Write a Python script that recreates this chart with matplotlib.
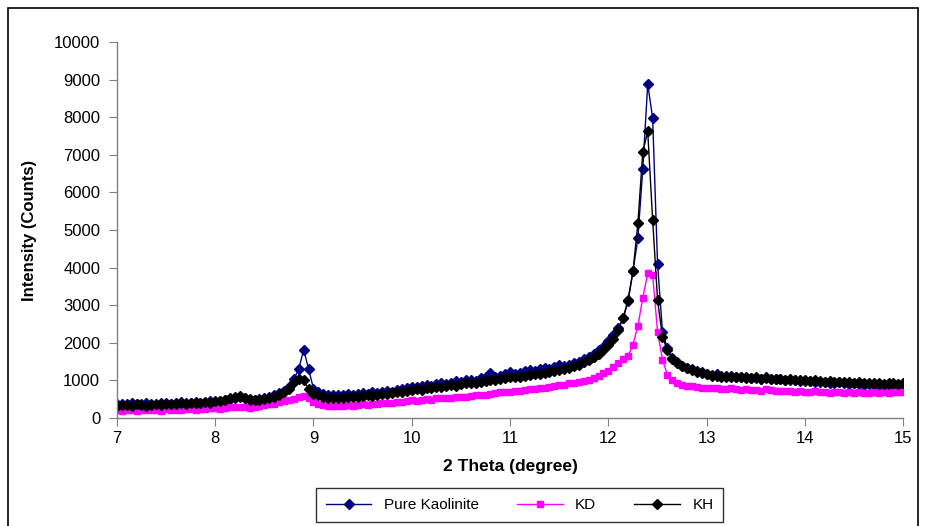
import numpy as np
import matplotlib
matplotlib.use('Agg')
import matplotlib.pyplot as plt
from matplotlib.patches import Rectangle

plt.rcParams['font.family'] = ['Liberation Sans', 'DejaVu Sans']

# 2-theta from 7 to 15 deg, step 0.05
two_theta = np.round(np.arange(161) * 0.05 + 7.0, 2)

# Pure Kaolinite
pure_kaolinite = [
    360, 380, 370, 390, 360, 380, 400, 370, 350, 390, 410, 380, 400, 420, 390, 400, 430, 410, 400, 440,
    420, 450, 470, 500, 540, 560, 530, 500, 480, 510, 530, 570, 620, 660, 720, 820, 1030, 1300, 1820, 1300,
    780, 680, 640, 620, 600, 620, 600, 640, 620, 630, 660, 640, 680, 660, 700, 720, 700, 740, 760, 800,
    830, 820, 860, 880, 850, 900, 920, 900, 940, 980, 960, 1000, 1020, 990, 1060, 1080, 1190, 1100, 1120, 1180,
    1220, 1160, 1200, 1240, 1280, 1250, 1300, 1320, 1290, 1360, 1400, 1380, 1420, 1460, 1500, 1560, 1620, 1700, 1800, 1900,
    2050, 2200, 2400, 2650, 3100, 3900, 4790, 6630, 8880, 7980, 4100, 2300, 1850, 1600, 1480, 1380, 1330, 1300, 1250, 1220,
    1180, 1150, 1160, 1120, 1100, 1130, 1090, 1080, 1100, 1060, 1070, 1050, 1080, 1040, 1030, 1050, 1010, 1000, 1020, 990,
    980, 990, 960, 950, 970, 940, 930, 950, 920, 910, 930, 900, 880, 910, 890, 870, 880, 860, 870, 850,
    810,
]

# KD
kd = [
    200, 190, 210, 200, 180, 200, 210, 220, 200, 190, 230, 210, 220, 200, 240, 230, 220, 250, 240, 260,
    260, 250, 270, 290, 280, 300, 280, 270, 300, 320, 350, 360, 380, 420, 440, 470, 500, 560, 580, 520,
    420, 370, 340, 320, 330, 310, 320, 340, 330, 350, 360, 350, 370, 380, 390, 400, 410, 420, 430, 450,
    470, 460, 480, 500, 490, 520, 530, 520, 540, 560, 570, 560, 580, 600, 610, 620, 640, 660, 680, 690,
    700, 720, 730, 740, 760, 780, 790, 800, 820, 840, 870, 880, 920, 930, 950, 980, 1020, 1070, 1130, 1200,
    1250, 1360, 1450, 1580, 1650, 1950, 2450, 3200, 3850, 3800, 2300, 1550, 1150, 1000, 920, 880, 860, 840, 820, 810,
    800, 790, 810, 780, 770, 790, 760, 750, 770, 740, 750, 730, 760, 740, 720, 730, 710, 720, 700, 710,
    700, 690, 710, 680, 690, 670, 700, 680, 660, 690, 670, 680, 660, 670, 690, 660, 680, 670, 690, 680,
    690,
]

# KH
kh = [
    330, 340, 350, 330, 360, 340, 320, 350, 360, 340, 370, 380, 360, 390, 380, 400, 390, 410, 420, 400,
    440, 460, 480, 520, 570, 580, 540, 490, 470, 480, 500, 530, 570, 620, 680, 760, 950, 1040, 1000, 760,
    650, 600, 560, 540, 520, 540, 530, 560, 550, 570, 580, 600, 590, 620, 640, 630, 660, 680, 700, 720,
    740, 760, 750, 790, 800, 830, 820, 850, 870, 860, 900, 920, 940, 930, 970, 990, 1010, 1000, 1040, 1060,
    1080, 1100, 1090, 1120, 1150, 1170, 1160, 1200, 1230, 1250, 1280, 1300, 1330, 1370, 1420, 1480, 1550, 1630, 1700, 1800,
    1950, 2100, 2350, 2650, 3150, 3900, 5180, 7080, 7620, 5270, 3140, 2160, 1800, 1580, 1450, 1380, 1320, 1270, 1230, 1200,
    1160, 1130, 1120, 1100, 1110, 1090, 1080, 1100, 1070, 1060, 1080, 1050, 1060, 1040, 1050, 1030, 1020, 1040, 1010, 1000,
    1000, 990, 1000, 980, 970, 990, 960, 970, 950, 960, 940, 950, 930, 940, 920, 930, 910, 920, 930, 910,
    920,
]

W, H = 928, 526
fig = plt.figure(figsize=(W / 100, H / 100), dpi=100)
ax = fig.add_axes([116.9 / W, 1 - 418 / H, (903.3 - 116.9) / W, (418 - 42) / H])

# outer chart frame
fig.patches.append(Rectangle((8 / W, -0.02), (918 - 8) / W, 1.02 - 8 / H, transform=fig.transFigure,
                             fill=False, edgecolor='black', linewidth=1.2))

ax.plot(two_theta, pure_kaolinite, color='#000080', marker='D', markersize=5.5, linewidth=1.0,
        label='Pure Kaolinite')
ax.plot(two_theta, kd, color='#FF00FF', marker='s', markersize=5, linewidth=1.0, label='KD')
ax.plot(two_theta, kh, color='black', marker='D', markersize=5, linewidth=1.0, label='KH')

ax.set_xlim(7, 15)
ax.set_ylim(0, 10000)
ax.set_xticks(range(7, 16))
ax.set_yticks(range(0, 10001, 1000))
for side in ['top', 'right']:
    ax.spines[side].set_visible(False)
for side in ['left', 'bottom']:
    ax.spines[side].set_color('#808080')
    ax.spines[side].set_linewidth(1.0)
ax.tick_params(axis='both', direction='out', length=6, color='#808080', labelsize=12, labelcolor='black')
ax.tick_params(axis='y', pad=6)

ax.set_xlabel('2 Theta (degree)', fontsize=12.5, fontweight='bold')
ax.set_ylabel('Intensity (Counts)', fontsize=12, fontweight='bold')
ax.xaxis.set_label_coords(0.5, -0.11)
ax.yaxis.set_label_coords(-0.102, 0.5)

leg = fig.legend(loc='center', bbox_to_anchor=(519.5 / W, 1 - 505 / H), ncol=3, fontsize=11,
                 frameon=True, fancybox=False, edgecolor='black', columnspacing=2.5, handlelength=3.0,
                 borderpad=0.65, borderaxespad=0)
leg.get_frame().set_linewidth(1.0)

fig.savefig('out.png', dpi=100)
